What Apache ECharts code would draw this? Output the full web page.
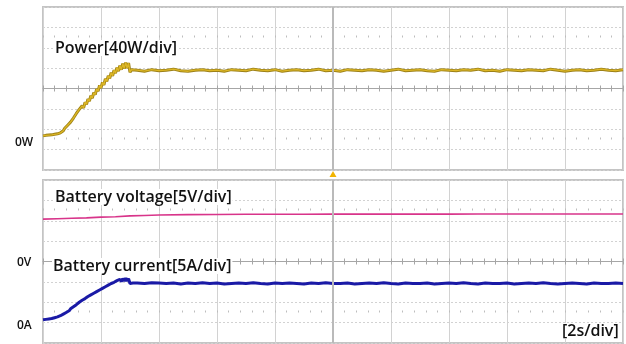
<!DOCTYPE html>
<html>
<head>
<meta charset="utf-8">
<script src="https://cdn.jsdelivr.net/npm/echarts@6/dist/echarts.min.js"></script>
<style>
  html, body { margin: 0; padding: 0; background: #fff; }
  #chart { width: 626px; height: 344px; }
</style>
</head>
<body>
<div id="chart"></div>
<script>
// time base [s], 2s/div, 10 div
var riseT = [0, 0.1, 0.2, 0.3, 0.4, 0.5, 0.6, 0.65, 0.7, 0.75, 0.8, 0.85, 0.9, 0.95, 1.0, 1.05, 1.1, 1.15, 1.2, 1.25,
  1.3, 1.35, 1.4, 1.45, 1.5, 1.55, 1.6, 1.65, 1.7, 1.75, 1.8, 1.85, 1.9, 1.95, 2.0, 2.05, 2.1, 2.15, 2.2, 2.25,
  2.3, 2.35, 2.4, 2.45, 2.5, 2.55, 2.6, 2.65, 2.7, 2.75, 2.8, 2.85, 2.9, 2.95, 3.0, 3.05, 3.1]
var flatT = [3.25, 3.5, 3.75, 4, 4.25, 4.5, 4.75, 5, 5.25, 5.5, 5.75, 6, 6.25, 6.5, 6.75, 7, 7.25, 7.5, 7.75, 8,
  8.25, 8.5, 8.75, 9, 9.25, 9.5, 9.75, 10, 10.25, 10.5, 10.75, 11, 11.25, 11.5, 11.75, 12, 12.25, 12.5, 12.75, 13,
  13.25, 13.5, 13.75, 14, 14.25, 14.5, 14.75, 15, 15.25, 15.5, 15.75, 16, 16.25, 16.5, 16.75, 17, 17.25, 17.5, 17.75, 18,
  18.25, 18.5, 18.75, 19, 19.25, 19.5, 19.75, 20]

// power [W], 40W/div
var powerRise = [7, 8, 8.5, 9, 10, 11, 13, 15, 17, 22, 20, 28, 26, 34, 32, 42, 40, 51, 48, 59,
  56, 66, 62, 73, 69, 79, 75, 86, 81, 92, 88, 99, 95, 106, 101, 112, 107, 119, 114, 125,
  120, 131, 125, 136, 130, 141, 134, 145, 137, 149, 139, 151, 140, 150, 132, 137, 134]
var powerFlat = [136, 134, 137, 135, 136, 138, 135, 134, 136, 137, 135, 136, 134, 137, 136, 135, 138, 136, 135, 137,
  134, 136, 137, 135, 136, 138, 135, 136, 134, 137, 136, 135, 137, 136, 134, 136, 138, 135, 136, 137,
  135, 134, 137, 136, 135, 137, 136, 138, 135, 136, 134, 137, 136, 135, 137, 136, 135, 138, 136, 134,
  136, 137, 135, 136, 138, 136, 135, 137]

// battery current [A], 5A/div
var currRise = [0.7, 0.8, 0.9, 1.0, 1.2, 1.4, 1.7, 1.9, 2.1, 2.5, 2.5, 2.9, 2.9, 3.4, 3.4, 3.9, 3.9, 4.4, 4.4, 5.0,
  4.9, 5.5, 5.3, 5.9, 5.8, 6.4, 6.2, 6.8, 6.6, 7.2, 7.0, 7.6, 7.4, 8.0, 7.8, 8.4, 8.2, 8.8, 8.6, 9.2,
  8.9, 9.6, 9.3, 9.9, 9.6, 10.3, 9.9, 10.6, 10.1, 10.8, 10.2, 10.9, 10.2, 10.8, 9.6, 9.8, 9.7]
var currFlat = [9.7, 9.6, 9.8, 9.7, 9.6, 9.7, 9.5, 9.7, 9.6, 9.8, 9.6, 9.7, 9.5, 9.6, 9.7, 9.6, 9.8, 9.6, 9.5, 9.7,
  9.6, 9.7, 9.6, 9.5, 9.7, 9.6, 9.8, 9.6, 9.6, 9.7, 9.5, 9.6, 9.7, 9.6, 9.8, 9.6, 9.5, 9.7, 9.6, 9.6,
  9.7, 9.5, 9.6, 9.7, 9.6, 9.8, 9.6, 9.5, 9.7, 9.6, 9.6, 9.7, 9.5, 9.6, 9.7, 9.6, 9.8, 9.6, 9.5, 9.6,
  9.7, 9.6, 9.5, 9.7, 9.6, 9.6, 9.7, 9.6]

// battery voltage [V], 5V/div
var voltT = [0, 0.5, 1, 1.5, 2, 2.5, 3, 3.5, 4, 5, 6, 7, 8, 9, 10, 11, 12, 13, 14, 15, 16, 17, 18, 19, 20]
var voltV = [10.4, 10.5, 10.6, 10.7, 10.9, 11.0, 11.2, 11.3, 11.4, 11.5, 11.55, 11.6, 11.6, 11.6, 11.62, 11.62,
  11.62, 11.62, 11.62, 11.64, 11.64, 11.64, 11.64, 11.64, 11.64]

var trigT = 10

function zip(t, v) {
  return t.map(function (x, i) { return [x, v[i]] })
}
var powerData = zip(riseT.concat(flatT), powerRise.concat(powerFlat))
var currData = zip(riseT.concat(flatT), currRise.concat(currFlat))
var voltData = zip(voltT, voltV)

var gridColor = '#d2d2d2'
var tickColor = '#a6a6a6'

// x axes for one panel: main division lines + centre tick line + two dot rows
function panelX(gi, centerOff, dotOffs) {
  var base = { gridIndex: gi, type: 'value', min: 0, max: 20, axisLabel: { show: false } }
  return [
    Object.assign({}, base, {
      interval: 2,
      axisLine: { show: false }, axisTick: { show: false },
      splitLine: { show: true, lineStyle: { color: gridColor, width: 1 } }
    }),
    Object.assign({}, base, {
      position: 'bottom', offset: centerOff, interval: 0.4,
      axisLine: { show: true, onZero: false, lineStyle: { color: tickColor, width: 1 } },
      axisTick: { show: true, inside: false, length: 3, lineStyle: { color: tickColor } },
      splitLine: { show: false }
    }),
    Object.assign({}, base, {
      position: 'bottom', offset: centerOff, interval: 0.4,
      axisLine: { show: false, onZero: false },
      axisTick: { show: true, inside: true, length: 3, lineStyle: { color: tickColor } },
      splitLine: { show: false }
    }),
    Object.assign({}, base, {
      position: 'bottom', offset: dotOffs[0], interval: 0.4,
      axisLine: { show: false, onZero: false },
      axisTick: { show: true, inside: true, length: 2, lineStyle: { color: '#bdbdbd' } },
      splitLine: { show: false }
    }),
    Object.assign({}, base, {
      position: 'bottom', offset: dotOffs[1], interval: 0.4,
      axisLine: { show: false, onZero: false },
      axisTick: { show: true, inside: true, length: 2, lineStyle: { color: '#bdbdbd' } },
      splitLine: { show: false }
    })
  ]
}

function divAxis(gi) {
  return {
    gridIndex: gi, type: 'value', min: -4, max: 4, interval: 1,
    axisLine: { show: false }, axisTick: { show: false }, axisLabel: { show: false },
    splitLine: { show: true, lineStyle: { color: gridColor, width: 1, type: [2, 2] } }
  }
}
function hiddenAxis(gi, min, max) {
  return {
    gridIndex: gi, type: 'value', min: min, max: max,
    axisLine: { show: false }, axisTick: { show: false }, axisLabel: { show: false },
    splitLine: { show: false }
  }
}

var chart = echarts.init(document.getElementById('chart'))

var lbl = function (id, text, x, y, size, weight, bg) {
  return {
    id: id, type: 'text', left: x, top: y, z: 10,
    style: {
      text: text, fill: '#111',
      font: weight + ' ' + size + 'px "Open Sans", "Noto Sans", sans-serif',
      backgroundColor: bg ? '#fff' : null, padding: bg ? [0, 1] : 0
    }
  }
}

chart.setOption({
  animation: false,
  grid: [
    { left: 43, top: 7, width: 580, height: 163, show: true, borderColor: '#c4c4c4', borderWidth: 2 },
    { left: 43, top: 180, width: 580, height: 163, show: true, borderColor: '#c4c4c4', borderWidth: 2 }
  ],
  xAxis: panelX(0, -81.5, [-132.5, -30.5]).concat(panelX(1, -81.5, [-132.5, -30.5])),
  yAxis: [
    divAxis(0),
    hiddenAxis(0, -60, 260),   // power, 0W one and a half div above bottom
    divAxis(1),
    hiddenAxis(1, -20, 20),    // voltage, 0V at centre
    hiddenAxis(1, -5, 35)      // current, 0A one div above bottom
  ],
  series: [
    {
      type: 'line', xAxisIndex: 0, yAxisIndex: 1, data: powerData,
      showSymbol: false, silent: true,
      lineStyle: { color: '#9c8018', width: 3 },
      markLine: {
        symbol: 'none', silent: true, label: { show: false },
        lineStyle: { color: '#bababa', width: 2, type: 'solid' },
        data: [{ xAxis: trigT }]
      },
      z: 3
    },
    {
      type: 'line', xAxisIndex: 0, yAxisIndex: 1, data: powerData,
      showSymbol: false, silent: true,
      lineStyle: { color: '#dcb624', width: 1.4 },
      z: 4
    },
    {
      type: 'line', xAxisIndex: 5, yAxisIndex: 3, data: voltData,
      showSymbol: false, silent: true,
      lineStyle: { color: '#d8348a', width: 1.6 },
      markLine: {
        symbol: 'none', silent: true, label: { show: false },
        lineStyle: { color: '#bababa', width: 2, type: 'solid' },
        data: [{ xAxis: trigT }]
      },
      z: 3
    },
    {
      type: 'line', xAxisIndex: 5, yAxisIndex: 4, data: currData,
      showSymbol: false, silent: true,
      lineStyle: { color: '#1a1aa6', width: 3 },
      z: 4
    }
  ],
  graphic: [
    lbl('t1', 'Power[40W/div]', 54, 40, 16, 600, true),
    lbl('t2', 'Battery voltage[5V/div]', 54, 189, 16, 600, true),
    lbl('t3', 'Battery current[5A/div]', 52, 258, 16, 600, true),
    lbl('t4', '[2s/div]', 561, 323, 16, 600, true),
    lbl('t5', '0W', 15, 137, 12, 600, false),
    lbl('t6', '0V', 17, 257, 12, 600, false),
    lbl('t7', '0A', 17, 320, 12, 600, false)
  ]
})

// trigger marker between the panels
var tx = chart.convertToPixel({ xAxisIndex: 0 }, trigT)
chart.setOption({
  graphic: [{
    id: 'trig', type: 'polygon', shape: { points: [[tx, 171], [tx - 3.5, 177], [tx + 3.5, 177]] },
    style: { fill: '#f2b400' }
  }]
})
</script>
</body>
</html>
